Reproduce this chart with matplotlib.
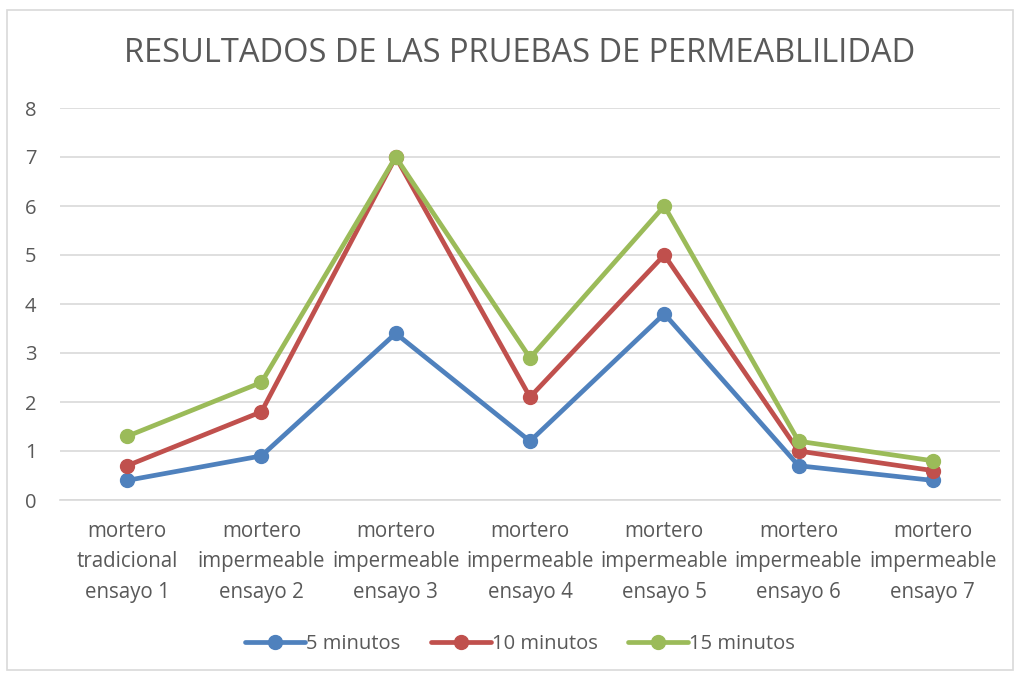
import matplotlib.pyplot as plt
from matplotlib.patches import Rectangle

categories = [
    "mortero\ntradicional\nensayo 1",
    "mortero\nimpermeable\nensayo 2",
    "mortero\nimpermeable\nensayo 3",
    "mortero\nimpermeable\nensayo 4",
    "mortero\nimpermeable\nensayo 5",
    "mortero\nimpermeable\nensayo 6",
    "mortero\nimpermeable\nensayo 7",
]
min_5 = [0.4, 0.9, 3.4, 1.2, 3.8, 0.7, 0.4]
min_10 = [0.7, 1.8, 7.0, 2.1, 5.0, 1.0, 0.6]
min_15 = [1.3, 2.4, 7.0, 2.9, 6.0, 1.2, 0.8]
series_names = ["5 minutos", "10 minutos", "15 minutos"]
colors = ["#4F81BD", "#C0504D", "#9BBB59"]
title = "RESULTADOS DE LAS PRUEBAS DE PERMEABLILIDAD"

plt.rcParams['font.family'] = ['Open Sans', 'DejaVu Sans']
text_color = '#595959'

fig = plt.figure(figsize=(10.2, 6.75), dpi=100)
ax = fig.add_axes([60 / 1020, 1 - 500 / 675, 940 / 1020, 392 / 675])

x = list(range(len(categories)))
for vals, name, c in zip([min_5, min_10, min_15], series_names, colors):
    ax.plot(x, vals, color=c, lw=3.4, marker='o', markersize=10,
            solid_capstyle='round', solid_joinstyle='round', label=name)

ax.set_xlim(-0.5, len(categories) - 0.5)
ax.set_ylim(0, 8)
ax.set_yticks(range(0, 9))
ax.set_xticks(x)
ax.set_xticklabels(categories, fontsize=14.8, color=text_color, linespacing=1.6)
ax.tick_params(axis='y', labelsize=14.5, labelcolor=text_color, length=0, pad=17)
ax.tick_params(axis='x', length=0, pad=15)
ax.grid(axis='y', color='#D9D9D9', lw=1.2)
ax.set_axisbelow(True)
for s in ['top', 'right', 'left']:
    ax.spines[s].set_visible(False)
ax.spines['bottom'].set_color('#D9D9D9')
ax.spines['bottom'].set_linewidth(1.2)

fig.text(520 / 1020, 1 - 54 / 675, title, fontsize=23.5, color=text_color,
         ha='center', va='center')

fig.legend(loc='center', bbox_to_anchor=(520 / 1020, 1 - 644 / 675), ncol=3,
           frameon=False, fontsize=14.5, labelcolor=text_color,
           handlelength=3.0, handletextpad=0.05, columnspacing=1.5)

fig.patches.append(Rectangle((7 / 1020, 5 / 675), 1006 / 1020, 660 / 675,
                             transform=fig.transFigure, fill=False,
                             edgecolor='#D9D9D9', lw=1.2))

fig.savefig('out.png', dpi=100)
